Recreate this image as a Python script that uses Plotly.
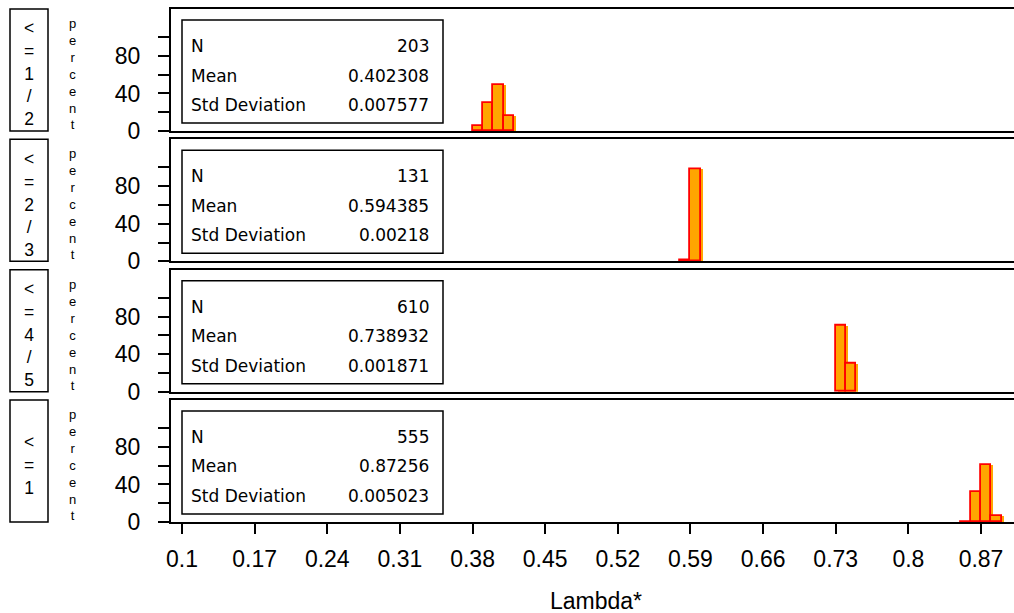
import plotly.graph_objects as go

# ---------------- data ----------------
group_labels = ["<=1/2", "<=2/3", "<=4/5", "<=1"]
n_values = ["203", "131", "610", "555"]
mean_values = ["0.402308", "0.594385", "0.738932", "0.87256"]
std_values = ["0.007577", "0.00218", "0.001871", "0.005023"]

bin_centers_1 = [0.385, 0.395, 0.405, 0.415]
percent_1 = [5, 29.5, 49, 16.5]
bin_centers_2 = [0.585, 0.595]
percent_2 = [1.5, 98.5]
bin_centers_3 = [0.735, 0.745]
percent_3 = [70, 30]
bin_centers_4 = [0.855, 0.865, 0.875, 0.885]
percent_4 = [0.5, 32.5, 61, 6]

bin_width = 0.01

x_tick_vals = [0.1, 0.17, 0.24, 0.31, 0.38, 0.45, 0.52, 0.59, 0.66, 0.73, 0.8, 0.87]
x_tick_text = ["0.1", "0.17", "0.24", "0.31", "0.38", "0.45", "0.52", "0.59",
               "0.66", "0.73", "0.8", "0.87"]
y_tick_vals = [0, 20, 40, 60, 80, 100]
y_tick_text = ["0", "", "40", "", "80", ""]
x_title = "Lambda*"
y_title = "percent"

# ---------------- layout helpers ----------------
W, H = 1014, 613
def fx(px):
    return px / W
def fy(py):
    return 1 - py / H

panel_step = 130.33
panel_top0, panel_bot0 = 9, 131
x_left_px = 171
x_range = [0.0894, 0.9018]
y_range = [0, 130]

TICKFONT = "Liberation Sans, Arial, sans-serif"
SANS = "DejaVu Sans, sans-serif"
ORANGE = "#FFA500"
RED = "#FF0000"

centers = [bin_centers_1, bin_centers_2, bin_centers_3, bin_centers_4]
percents = [percent_1, percent_2, percent_3, percent_4]

fig = go.Figure()
layout = dict(
    width=W, height=H, autosize=False, margin=dict(l=0, r=0, t=0, b=0, pad=0),
    paper_bgcolor="white", plot_bgcolor="white",
    showlegend=False, barmode="overlay", bargap=0,
)
shapes = []
annotations = []

for k in range(4):
    top = panel_top0 + panel_step * k
    bot = panel_bot0 + panel_step * k
    xa = "x" if k == 0 else f"x{k+1}"
    ya = "y" if k == 0 else f"y{k+1}"
    xkey = "xaxis" if k == 0 else f"xaxis{k+1}"
    ykey = "yaxis" if k == 0 else f"yaxis{k+1}"

    # shadow fill (slightly offset, like the original rendering)
    fig.add_trace(go.Bar(
        x=centers[k], y=percents[k], width=bin_width, offset=-bin_width / 2 + 0.0018,
        marker=dict(color=ORANGE, line=dict(width=0)),
        xaxis=xa, yaxis=ya, hoverinfo="skip"))
    fig.add_trace(go.Bar(
        x=centers[k], y=percents[k], width=bin_width,
        marker=dict(color=ORANGE, line=dict(color=RED, width=1.8)),
        xaxis=xa, yaxis=ya))

    last = (k == 3)
    layout[xkey] = dict(
        domain=[fx(x_left_px), 1], range=x_range, anchor=ya, automargin=False,
        showline=True, linecolor="black", linewidth=2, mirror=True,
        showgrid=False, zeroline=False,
        tickmode="array", tickvals=x_tick_vals,
        ticktext=x_tick_text if last else [""] * len(x_tick_vals),
        ticks="outside" if last else "", ticklen=10, tickwidth=1.5, tickcolor="black",
        showticklabels=last, ticklabelstandoff=5,
        tickfont=dict(family=TICKFONT, size=23, color="black"),
        fixedrange=True,
    )
    if k > 0:
        layout[xkey]["matches"] = "x"
    layout[ykey] = dict(
        domain=[fy(bot), fy(top)], range=y_range, anchor=xa, automargin=False,
        showline=True, linecolor="black", linewidth=2, mirror=False,
        showgrid=False, zeroline=False,
        tickmode="array", tickvals=y_tick_vals, ticktext=y_tick_text,
        ticks="outside", ticklen=11, tickwidth=1.5, tickcolor="black",
        ticklabelstandoff=13,
        tickfont=dict(family=TICKFONT, size=23, color="black"),
        fixedrange=True,
    )

    # statistics box
    shapes.append(dict(type="rect", xref="paper", yref="paper",
                       x0=fx(182), x1=fx(443), y0=fy(bot - 8), y1=fy(top + 11),
                       line=dict(color="black", width=1.5), fillcolor="white", layer="above"))
    rows = [("N", n_values[k]), ("Mean", mean_values[k]), ("Std Deviation", std_values[k])]
    for i, (lab, val) in enumerate(rows):
        yy = fy(top + 37 + 29.5 * i)
        annotations.append(dict(xref="paper", yref="paper", x=fx(189), y=yy,
                                text=lab, showarrow=False, xanchor="left", yanchor="middle",
                                font=dict(family=SANS, size=17, color="black")))
        annotations.append(dict(xref="paper", yref="paper", x=fx(431), y=yy,
                                text=val, showarrow=False, xanchor="right", yanchor="middle",
                                font=dict(family=SANS, size=17, color="black")))

    # group label box on the left
    shapes.append(dict(type="rect", xref="paper", yref="paper",
                       x0=fx(10), x1=fx(48), y0=fy(bot), y1=fy(top),
                       line=dict(color="black", width=1.5)))
    lab = group_labels[k]
    annotations.append(dict(xref="paper", yref="paper", x=fx(29), y=fy((top + bot) / 2 + 4),
                            text="<br>".join(ch.replace("<", "&lt;") for ch in lab),
                            showarrow=False, xanchor="center", yanchor="middle",
                            font=dict(family=TICKFONT, size=17.5, color="black")))

    # vertical "percent" label
    annotations.append(dict(xref="paper", yref="paper", x=fx(72), y=fy((top + bot) / 2 + 4),
                            text="<br>".join(list(y_title)), showarrow=False,
                            xanchor="center", yanchor="middle",
                            font=dict(family=TICKFONT, size=13, color="black")))

# x-axis title
annotations.append(dict(xref="paper", yref="paper", x=fx(596), y=fy(601),
                        text=x_title, showarrow=False, xanchor="center", yanchor="middle",
                        font=dict(family=TICKFONT, size=23, color="black")))

layout["shapes"] = shapes
layout["annotations"] = annotations
fig.update_layout(**layout)

fig.write_html(
    "out.html",
    config={"displayModeBar": False},
    post_script=(
        "document.body.style.margin='0';"
        "document.body.style.overflow='hidden';"
    ),
)
